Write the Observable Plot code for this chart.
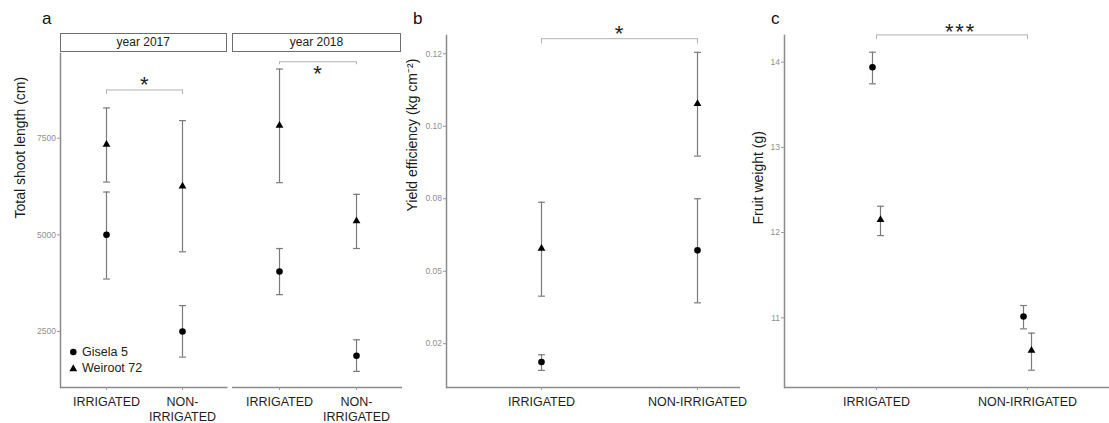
<!DOCTYPE html>
<html>
<head>
<meta charset="utf-8">
<script src="https://cdn.jsdelivr.net/npm/d3@7"></script>
<script src="https://cdn.jsdelivr.net/npm/@observablehq/plot@0.6"></script>
<style>
  body { margin: 0; background: #fff; font-family: "Liberation Sans", Arial, sans-serif; }
  #wrap { position: relative; width: 1109px; height: 423px; overflow: hidden; background: #fff; }
  #wrap > svg, #wrap > figure { position: absolute; top: 0; margin: 0; }
  .strip { position: absolute; top: 33px; height: 17px; border: 1.5px solid #6e6e6e; background: #fff;
           font-size: 12px; text-align: center; line-height: 17px; color: #222; box-sizing: content-box; }
  .tag { position: absolute; top: 10px; font-size: 17px; line-height: 1; color: #111; }
  .legend { position: absolute; left: 68px; top: 344px; font-size: 12.5px; color: #222; line-height: 16px; }
  .legend div { display: flex; align-items: center; height: 16px; }
  .legend svg { margin-right: 3px; }
</style>
</head>
<body>
<div id="wrap"></div>
<script>
// ---------- data ----------
const treatments = ["IRRIGATED", "NON-IRRIGATED"];
const treatmentLabelsA = ["IRRIGATED", "NON-\nIRRIGATED"];
const genotypes = ["Gisela 5", "Weiroot 72"];
const years = ["year 2017", "year 2018"];
const panelTags = ["a", "b", "c"];
const yTitles = ["Total shoot length (cm)", "Yield efficiency (kg cm\u207B\u00B2)", "Fruit weight (g)"];

// Panel a: total shoot length (cm), values per treatment
const shoot2017GiselaMean = [5000, 2500];
const shoot2017GiselaLow  = [3858, 1838];
const shoot2017GiselaHigh = [6108, 3170];
const shoot2017WeirootMean = [7338, 6255];
const shoot2017WeirootLow  = [6366, 4562];
const shoot2017WeirootHigh = [8283, 7956];
const shoot2018GiselaMean = [4054, 1874];
const shoot2018GiselaLow  = [3454, 1469];
const shoot2018GiselaHigh = [4647, 2286];
const shoot2018WeirootMean = [7827, 5361];
const shoot2018WeirootLow  = [6350, 4647];
const shoot2018WeirootHigh = [9289, 6049];
const shootDomain = [1052, 9691];
const shootTicks = [2500, 5000, 7500];
const shootTickLabels = ["2500", "5000", "7500"];

// Panel b: yield efficiency (kg cm-2)
const yieldGiselaMean = [0.0187, 0.0572];
const yieldGiselaLow  = [0.0158, 0.0391];
const yieldGiselaHigh = [0.0212, 0.0750];
const yieldWeirootMean = [0.0578, 0.1078];
const yieldWeirootLow  = [0.0414, 0.0897];
const yieldWeirootHigh = [0.0738, 0.1255];
const yieldDomain = [0.0099, 0.1313];
const yieldTicks = [0.025, 0.05, 0.075, 0.1, 0.125];
const yieldTickLabels = ["0.02", "0.05", "0.08", "0.10", "0.12"];

// Panel c: fruit weight (g)
const fruitGiselaMean = [13.94, 11.015];
const fruitGiselaLow  = [13.746, 10.87];
const fruitGiselaHigh = [14.117, 11.144];
const fruitWeirootMean = [12.15, 10.616];
const fruitWeirootLow  = [11.965, 10.385];
const fruitWeirootHigh = [12.309, 10.82];
const fruitDomain = [10.182, 14.313];
const fruitTicks = [11, 12, 13, 14];
const fruitTickLabels = ["11", "12", "13", "14"];

// Significance brackets: bracket level, tip end, label
const sigShoot2017 = {level: 8747, tip: 8630, label: "*"};
const sigShoot2018 = {level: 9477, tip: 9399, label: "*"};
const sigYield = {level: 0.1302, tip: 0.1284, label: "*"};
const sigFruit = {level: 14.32, tip: 14.266, label: "***"};

// ---------- helpers ----------
function rows(mean, low, high, genotype) {
  return treatments.map((t, i) => ({t, m: mean[i], lo: low[i], hi: high[i], g: genotype}));
}
const cap = {draw(ctx) { ctx.moveTo(-3.4, 0); ctx.lineTo(3.4, 0); }};
const ERR = "#7a7a7a", AXIS = "#8c8c8c", SIG = "#b3b3b3";

function panel(cfg) {
  const marks = [];
  marks.push(Plot.ruleY([cfg.yDomain[0]], {stroke: AXIS, strokeWidth: 1.5, insetRight: cfg.axisInsetRight || 0}));
  if (cfg.leftLine) marks.push(Plot.frame({anchor: "left", stroke: AXIS, strokeWidth: 1.5}));
  cfg.series.forEach(s => {
    const dx = s.dx || 0;
    marks.push(Plot.ruleX(s.rows, {x: "t", y1: "lo", y2: "hi", stroke: ERR, strokeWidth: 1.2, dx}));
    marks.push(Plot.dot(s.rows, {x: "t", y: "lo", symbol: cap, fill: "none", stroke: ERR, strokeWidth: 1.2, dx}));
    marks.push(Plot.dot(s.rows, {x: "t", y: "hi", symbol: cap, fill: "none", stroke: ERR, strokeWidth: 1.2, dx}));
    marks.push(Plot.dot(s.rows, {x: "t", y: "m", symbol: s.symbol, r: s.r, fill: "#000", stroke: "none", dx}));
  });
  const sig = cfg.sig;
  marks.push(Plot.link([sig], {x1: () => treatments[0], x2: () => treatments[1], y1: "level", y2: "level", stroke: SIG, strokeWidth: 1}));
  marks.push(Plot.ruleX(treatments, {x: d => d, y1: () => sig.tip, y2: () => sig.level, stroke: SIG, strokeWidth: 1}));
  marks.push(Plot.text([sig], {y: "level", text: "label", frameAnchor: "middle", fontSize: 22, dy: cfg.starDy, dx: cfg.starDx || 0, fill: "#222"}));
  if (cfg.yTitle) {
    marks.push(Plot.text([cfg.yTitle], {text: d => d, frameAnchor: "left", rotate: -90, fontSize: 14, fill: "#1a1a1a", dx: cfg.titleDx, dy: cfg.titleDy || 0}));
  }
  if (cfg.yTicks) {
    marks.push(Plot.axisY(cfg.yTicks, {tickFormat: d => cfg.yTickLabels[cfg.yTicks.indexOf(d)], fontSize: 8.5, fill: "#8f8f8f", stroke: "#9a9a9a", tickSize: 3, tickPadding: 1.5, label: null}));
  }
  marks.push(Plot.axisX({tickFormat: d => cfg.xLabels[treatments.indexOf(d)], fontSize: 12.5, fill: "#1e1e1e", stroke: "#9a9a9a", tickSize: 3, tickPadding: 5, lineHeight: 1.2, label: null}));

  const svg = Plot.plot({
    width: cfg.width, height: 423,
    marginLeft: cfg.marginLeft, marginRight: 0, marginTop: cfg.marginTop, marginBottom: 36,
    x: {type: "point", domain: treatments, padding: 0.6},
    y: {domain: cfg.yDomain, ...(cfg.yTicks ? {} : {axis: null})},
    style: {background: "transparent", fontFamily: "Liberation Sans, Arial, sans-serif", overflow: "visible"},
    marks
  });
  svg.style.left = cfg.left + "px";
  if (sig.label.length > 1) {
    d3.select(svg).selectAll("text").filter(function() { return this.textContent === sig.label; })
      .attr("letter-spacing", "1.7px");
  }
  return svg;
}

const wrap = document.getElementById("wrap");

// Panel a - 2017
wrap.appendChild(panel({
  left: 0, width: 227.5, marginLeft: 60, marginTop: 53, yDomain: shootDomain,
  yTicks: shootTicks, yTickLabels: shootTickLabels, leftLine: true,
  yTitle: yTitles[0], titleDx: -40, titleDy: -2,
  xLabels: treatmentLabelsA,
  series: [
    {rows: rows(shoot2017GiselaMean, shoot2017GiselaLow, shoot2017GiselaHigh, genotypes[0]), symbol: "circle", r: 3.3},
    {rows: rows(shoot2017WeirootMean, shoot2017WeirootLow, shoot2017WeirootHigh, genotypes[1]), symbol: "triangle", r: 2.9}
  ],
  sig: sigShoot2017, starDy: -4.7
}));
// Panel a - 2018
wrap.appendChild(panel({
  left: 232, width: 170, marginLeft: 0, marginTop: 53, yDomain: shootDomain,
  xLabels: treatmentLabelsA,
  series: [
    {rows: rows(shoot2018GiselaMean, shoot2018GiselaLow, shoot2018GiselaHigh, genotypes[0]), symbol: "circle", r: 3.3},
    {rows: rows(shoot2018WeirootMean, shoot2018WeirootLow, shoot2018WeirootHigh, genotypes[1]), symbol: "triangle", r: 2.9}
  ],
  sig: sigShoot2018, starDy: 12.6
}));
// Panel b (its plot area runs on under panel c; visible axis line stops where c begins)
wrap.appendChild(panel({
  left: 380, width: 411, marginLeft: 66, marginTop: 35, yDomain: yieldDomain,
  yTicks: yieldTicks, yTickLabels: yieldTickLabels, leftLine: true, axisInsetRight: 51,
  yTitle: yTitles[1], titleDx: -34,
  xLabels: treatments,
  series: [
    {rows: rows(yieldGiselaMean, yieldGiselaLow, yieldGiselaHigh, genotypes[0]), symbol: "circle", r: 3.3},
    {rows: rows(yieldWeirootMean, yieldWeirootLow, yieldWeirootHigh, genotypes[1]), symbol: "triangle", r: 2.9}
  ],
  sig: sigYield, starDy: -5
}));
// Panel c
wrap.appendChild(panel({
  left: 740, width: 378, marginLeft: 44, marginTop: 35, yDomain: fruitDomain,
  yTicks: fruitTicks, yTickLabels: fruitTickLabels, leftLine: true,
  yTitle: yTitles[2], titleDx: -26, titleDy: 13,
  xLabels: treatments,
  series: [
    {rows: rows(fruitGiselaMean, fruitGiselaLow, fruitGiselaHigh, genotypes[0]), symbol: "circle", r: 3.3, dx: -4},
    {rows: rows(fruitWeirootMean, fruitWeirootLow, fruitWeirootHigh, genotypes[1]), symbol: "triangle", r: 2.9, dx: 4}
  ],
  sig: sigFruit, starDy: -3, starDx: 9
}));

// strips
[[60, 164.5], [232, 167]].forEach(([l, w], i) => {
  const d = document.createElement("div");
  d.className = "strip"; d.style.left = l + "px"; d.style.width = w + "px";
  d.textContent = years[i];
  wrap.appendChild(d);
});
// panel tags
[42, 413, 771].forEach((l, i) => {
  const d = document.createElement("div");
  d.className = "tag"; d.style.left = l + "px"; d.textContent = panelTags[i];
  wrap.appendChild(d);
});
// legend
const lg = document.createElement("div");
lg.className = "legend";
lg.innerHTML =
  `<div><svg width="11" height="10"><circle cx="5.3" cy="5" r="3.3" fill="#000"/></svg>${genotypes[0]}</div>` +
  `<div><svg width="11" height="10"><path d="M5.3,1.2 L9.2,8.2 L1.4,8.2 Z" fill="#000"/></svg>${genotypes[1]}</div>`;
wrap.appendChild(lg);
</script>
</body>
</html>
